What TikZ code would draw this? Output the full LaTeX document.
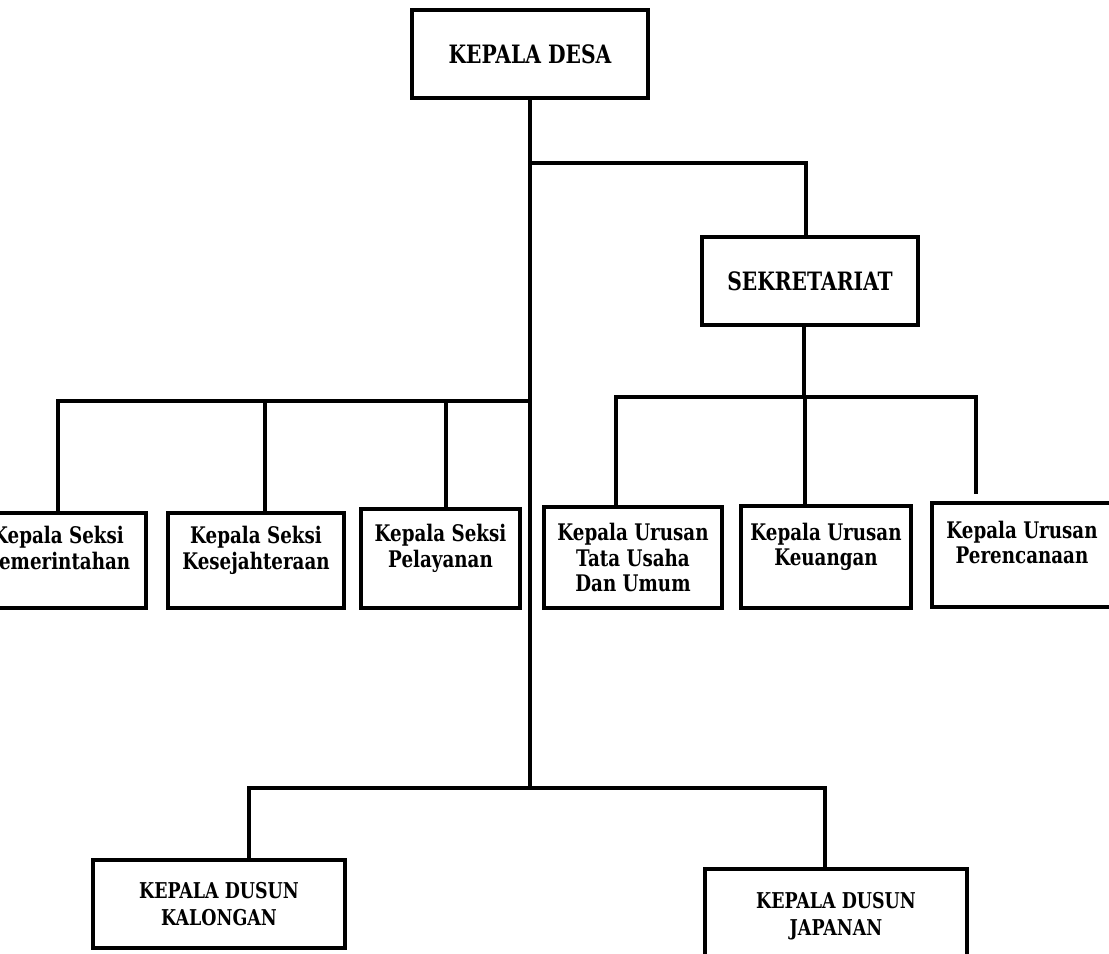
\documentclass[tikz,border=0pt]{standalone}
\usepackage{fontspec}
\setmainfont{DejaVu Serif}[FakeStretch=0.8]
\tikzset{
  headbox/.style={draw, line width=1.2pt, minimum height=0.88cm, inner sep=0pt, align=center, font=\fontsize{7.2}{8}\selectfont\bfseries},
  unitbox/.style={draw, line width=1.2pt, inner sep=0pt, align=center, font=\fontsize{6.5}{7.2}\selectfont\bfseries},
  dusunbox/.style={draw, line width=1.2pt, inner sep=0pt, align=center, font=\fontsize{6.2}{7.6}\selectfont\bfseries},
  link/.style={line width=1.1pt}
}
\begin{document}
\begin{tikzpicture}
    \useasboundingbox (0,0) rectangle (11.09,-9.53);
    \fill[white] (0,0) rectangle (11.09,-9.53);
    \clip (0,0) rectangle (11.09,-9.53);

    % top of the chart
    \node[headbox, minimum width=2.36cm] (desa) at (5.30,-0.54) {KEPALA DESA};
    \node[headbox, minimum width=2.16cm] (sekr) at (8.10,-2.81) {SEKRETARIAT};

    % seksi, left side
    \node[unitbox, minimum width=1.76cm, minimum height=0.95cm] (pem) at (0.58,-5.605) {Kepala Seksi\\Pemerintahan\\\mbox{}};
    \node[unitbox, minimum width=1.76cm, minimum height=0.95cm] (kes) at (2.56,-5.605) {Kepala Seksi\\Kesejahteraan\\\mbox{}};
    \node[unitbox, minimum width=1.59cm, minimum height=0.99cm] (pel) at (4.405,-5.585) {Kepala Seksi\\Pelayanan\\\mbox{}};

    % urusan, right side
    \node[unitbox, minimum width=1.78cm, minimum height=1.01cm] (tu) at (6.33,-5.575) {Kepala Urusan\\Tata Usaha\\Dan Umum};
    \node[unitbox, minimum width=1.70cm, minimum height=1.02cm] (keu) at (8.26,-5.57) {Kepala Urusan\\Keuangan\\\mbox{}};
    \node[unitbox, minimum width=1.80cm, minimum height=1.04cm] (ren) at (10.22,-5.55) {Kepala Urusan\\Perencanaan\\\mbox{}};

    % dusun
    \node[dusunbox, minimum width=2.52cm, minimum height=0.88cm] (kal) at (2.19,-9.04) {KEPALA DUSUN\\KALONGAN};
    \node[dusunbox, minimum width=2.62cm, minimum height=0.95cm] (jap) at (8.36,-9.165) {KEPALA DUSUN\\JAPANAN};

    % lines
    \coordinate (trunk) at (5.30,-7.88);
    \coordinate (sj) at (5.30,-1.63);
    \coordinate (lj) at (5.30,-4.01);
    \draw[link] (desa.south) -- (trunk);
    \draw[link] (sj) -| ([xshift=-0.04cm]sekr.north);

    \draw[link] (lj) -| (pem.north);
    \draw[link] (lj) -| ([xshift=0.09cm]kes.north);
    \draw[link] (lj) -| ([xshift=0.055cm]pel.north);

    \draw[link] ([xshift=-0.06cm]sekr.south) -- ++(0,-0.70) coordinate (rj);
    \draw[link] (rj) -| ([xshift=-0.17cm]tu.north);
    \draw[link] (rj) -| ([xshift=-0.21cm]keu.north);
    \draw[link, shorten >=0.07cm] (rj) -| ([xshift=-0.46cm]ren.north);

    \draw[link] (trunk) -| ([xshift=0.30cm]kal.north);
    \draw[link] (trunk) -| ([xshift=-0.11cm]jap.north);
\end{tikzpicture}
\end{document}
